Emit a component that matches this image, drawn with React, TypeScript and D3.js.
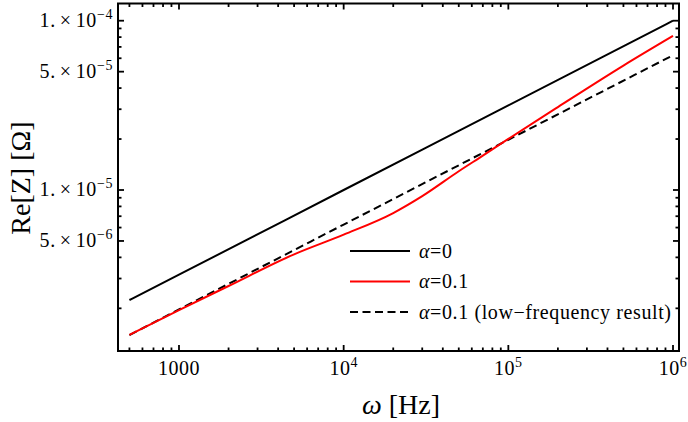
import React from "react";
import * as d3 from "d3";

const omega = [500, 1000, 2000, 5000, 1e4, 2e4, 3e4, 5e4, 7e4, 1e5, 2e5, 5e5, 1e6];
const reAlpha01 = [1.393e-6, 1.95e-6, 2.71e-6, 4.17e-6, 5.45e-6, 7.31e-6, 9.2e-6, 1.291e-5, 1.596e-5, 2.004e-5, 3.09e-5, 5.43e-5, 8.13e-5];
const omegaStraight = [500, 1000, 1e4, 1e5, 1e6];
const reAlpha0 = [2.24e-6, 3.16e-6, 1.0e-5, 3.16e-5, 1.0e-4];
const reLowFreq = [1.39e-6, 1.97e-6, 6.25e-6, 1.98e-5, 6.25e-5];

const xTickLabels = [
  { v: 1000, base: "1000", exp: "" },
  { v: 1e4, base: "10", exp: "4" },
  { v: 1e5, base: "10", exp: "5" },
  { v: 1e6, base: "10", exp: "6" },
];
const yTickLabels = [
  { v: 1e-4, m: "1.", exp: "−4" },
  { v: 5e-5, m: "5.", exp: "−5" },
  { v: 1e-5, m: "1.", exp: "−5" },
  { v: 5e-6, m: "5.", exp: "−6" },
];

const W = 688, H = 422;
const L = 118, R = 679, T = 3.5, B = 351;
const FONT = "'Liberation Serif', serif";

export default function App() {
  const x = d3.scaleLog().domain([Math.pow(10, 2.6296), Math.pow(10, 6.0364)]).range([L, R]);
  const y = d3.scaleLog().domain([Math.pow(10, -5.951), Math.pow(10, -3.8984)]).range([B, T]);

  const line = d3.line<[number, number]>().x((d) => x(d[0])).y((d) => y(d[1])).curve(d3.curveMonotoneX);
  const redPath = line(omega.map((o, i) => [o, reAlpha01[i]]))!;
  const blackPath = line(omegaStraight.map((o, i) => [o, reAlpha0[i]]))!;
  const dashPath = line(omegaStraight.map((o, i) => [o, reLowFreq[i]]))!;

  const xTicks: { v: number; major: boolean }[] = [];
  for (let e = 2; e <= 6; e++) {
    for (let m = 1; m <= 9; m++) {
      const v = m * Math.pow(10, e);
      const [d0, d1] = x.domain();
      if (v >= d0 && v <= d1) xTicks.push({ v, major: m === 1 });
    }
  }
  const yTicks: { v: number; major: boolean }[] = [];
  for (let e = -7; e <= -4; e++) {
    for (let m = 1; m <= 9; m++) {
      const v = m * Math.pow(10, e);
      const [d0, d1] = y.domain();
      if (v >= d0 && v <= d1) yTicks.push({ v, major: m === 1 || m === 5 });
    }
  }
  const maj = 6, min = 3.5;

  const legend = [
    { label: "=0", color: "#000", dash: undefined as string | undefined },
    { label: "=0.1", color: "#ff0000", dash: undefined },
    { label: "=0.1 (low−frequency result)", color: "#000", dash: "8,4.5" },
  ];

  return (
    <svg width={W} height={H} style={{ position: "absolute", left: 0, top: 0, background: "#fff" }}>
      <defs>
        <clipPath id="plotclip">
          <rect x={L} y={T} width={R - L} height={B - T} />
        </clipPath>
      </defs>
      <g clipPath="url(#plotclip)" fill="none" strokeWidth={2}>
        <path d={blackPath} stroke="#000" />
        <path d={dashPath} stroke="#000" strokeDasharray="8,4.5" />
        <path d={redPath} stroke="#ff0000" />
      </g>
      <rect x={L} y={T} width={R - L} height={B - T} fill="none" stroke="#000" strokeWidth={2} />
      <g stroke="#000" strokeWidth={1.8}>
        {xTicks.map((t, i) => {
          const px = x(t.v);
          const len = t.major ? maj : min;
          return (
            <g key={"xt" + i}>
              <line x1={px} x2={px} y1={B} y2={B - len} />
              <line x1={px} x2={px} y1={T} y2={T + len} />
            </g>
          );
        })}
        {yTicks.map((t, i) => {
          const py = y(t.v);
          const len = t.major ? maj : min;
          return (
            <g key={"yt" + i}>
              <line x1={L} x2={L + len} y1={py} y2={py} />
              <line x1={R} x2={R - len} y1={py} y2={py} />
            </g>
          );
        })}
      </g>
      <g fontFamily={FONT} fontSize={20} fill="#000">
        {xTickLabels.map((t, i) => (
          <text key={"xl" + i} x={x(t.v)} y={375} textAnchor="middle" letterSpacing={0.5}>
            {t.base}
            {t.exp ? <tspan dy={-8} fontSize={14}>{t.exp}</tspan> : null}
          </text>
        ))}
        {yTickLabels.map((t, i) => (
          <text key={"yl" + i} x={113} y={y(t.v) + 6} textAnchor="end" letterSpacing={0.6}>
            {t.m}
            <tspan dx={4}>×</tspan>
            <tspan dx={4}>10</tspan>
            <tspan dy={-8} fontSize={14}>{t.exp}</tspan>
          </text>
        ))}
      </g>
      <text x={401} y={414} textAnchor="middle" fontFamily={FONT} fontSize={28}>
        <tspan fontStyle="italic">ω</tspan> [Hz]
      </text>
      <text transform={`translate(30,178) rotate(-90)`} textAnchor="middle" fontFamily={FONT} fontSize={28}>
        Re[Z] [Ω]
      </text>
      <g fontFamily={FONT} fontSize={20} letterSpacing={0.6}>
        {legend.map((l, i) => {
          const ly = 251 + i * 30.5;
          return (
            <g key={"lg" + i}>
              <line x1={350} x2={410} y1={ly} y2={ly} stroke={l.color} strokeWidth={2} strokeDasharray={l.dash} />
              <text x={419} y={ly + 6.5}>
                <tspan fontStyle="italic">α</tspan>
                {l.label}
              </text>
            </g>
          );
        })}
      </g>
    </svg>
  );
}
